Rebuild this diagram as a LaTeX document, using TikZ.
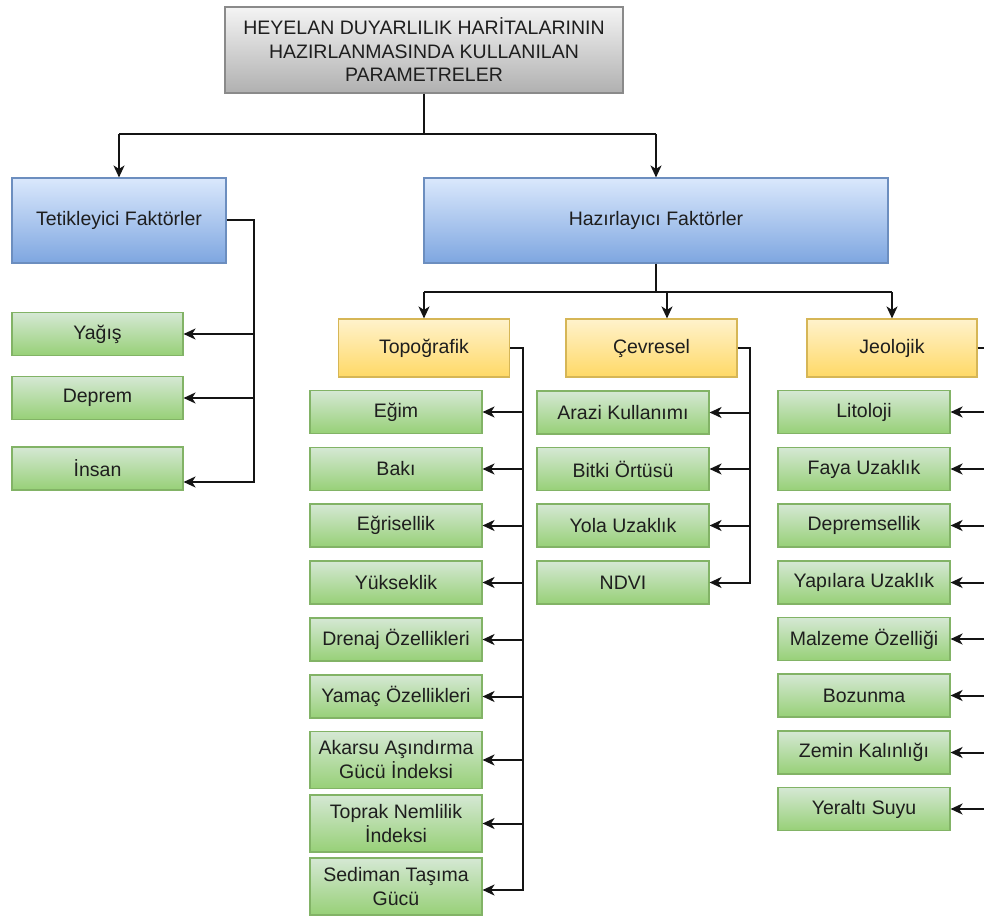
\documentclass[tikz,border=0pt]{standalone}
\usepackage{fontspec}
\setmainfont{Liberation Sans}
\usetikzlibrary{arrows.meta}
\definecolor{textc}{HTML}{1E1E1E}
\definecolor{linec}{HTML}{141414}
\definecolor{grayTop}{HTML}{F4F4F4}
\definecolor{grayBot}{HTML}{B0B0B0}
\definecolor{grayBd}{HTML}{8A8A8A}
\definecolor{blueTop}{HTML}{DAE8FC}
\definecolor{blueBot}{HTML}{7EA6E0}
\definecolor{blueBd}{HTML}{6C8EBF}
\definecolor{yelTop}{HTML}{FFF2CC}
\definecolor{yelBot}{HTML}{FFD966}
\definecolor{yelBd}{HTML}{D6B656}
\definecolor{grnTop}{HTML}{D5E8D4}
\definecolor{grnBot}{HTML}{97D077}
\definecolor{grnBd}{HTML}{82B366}
\begin{document}
\begin{tikzpicture}[x=1pt,y=-1pt,
  box/.style={draw, line width=1.1pt, inner sep=2pt, align=center,
    font=\fontsize{19.5}{23.5}\selectfont, text=textc},
  graybox/.style={box, draw=grayBd, top color=grayTop, bottom color=grayBot},
  bluebox/.style={box, draw=blueBd, top color=blueTop, bottom color=blueBot,
    minimum height=85pt},
  yelbox/.style={box, draw=yelBd, top color=yelTop, bottom color=yelBot,
    minimum width=171pt, minimum height=58pt},
  grnbox/.style={box, draw=grnBd, top color=grnTop, bottom color=grnBot,
    minimum width=172pt, minimum height=43pt},
  tall/.style={minimum height=57pt, font=\fontsize{19.5}{24}\selectfont},
  link/.style={draw=linec, line width=2pt},
  arr/.style={link, -{Stealth[length=12pt,width=11pt,inset=3.5pt]}}]
\useasboundingbox (0,0) rectangle (984,917);
\clip (0,0) rectangle (984,917);

% top level
\node[graybox, minimum width=398pt, minimum height=86pt] (title) at (424,50)
  {HEYELAN DUYARLILIK HARİTALARININ\\HAZIRLANMASINDA KULLANILAN\\PARAMETRELER};
\node[bluebox, minimum width=214pt] (tet) at (119,220.5) {Tetikleyici Faktörler};
\node[bluebox, minimum width=464pt] (haz) at (656,220.5) {Hazırlayıcı Faktörler};

% triggering factors
\node[grnbox, minimum width=171pt] (yagis)  at (97.5,334)   {Yağış};
\node[grnbox, minimum width=171pt] (deprem) at (97.5,398)   {Deprem};
\node[grnbox, minimum width=171pt] (insan)  at (97.5,468.5) {İnsan};

% preparatory groups
\node[yelbox] (topo)  at (424,348)   {Topoğrafik};
\node[yelbox] (cevre) at (651.5,348) {Çevresel};
\node[yelbox, minimum width=170pt] (jeo) at (892,348) {Jeolojik};

% topographic parameters
\node[grnbox] (egim)   at (396,412)   {Eğim};
\node[grnbox] (baki)   at (396,469)   {Bakı};
\node[grnbox] (egri)   at (396,525.5) {Eğrisellik};
\node[grnbox] (yuk)    at (396,582.5) {Yükseklik};
\node[grnbox] (dren)   at (396,639.5) {Drenaj Özellikleri};
\node[grnbox] (yamac)  at (396,696.5) {Yamaç Özellikleri};
\node[grnbox, tall] (akarsu) at (396,760)   {Akarsu Aşındırma\\Gücü İndeksi};
\node[grnbox, tall] (toprak) at (396,823.5) {Toprak Nemlilik\\İndeksi};
\node[grnbox, tall] (sedim)  at (396,886.5) {Sediman Taşıma\\Gücü};

% environmental parameters
\node[grnbox] (arazi) at (623,412.5) {Arazi Kullanımı};
\node[grnbox] (bitki) at (623,469)   {Bitki Örtüsü};
\node[grnbox] (yola)  at (623,525.5) {Yola Uzaklık};
\node[grnbox] (ndvi)  at (623,582.5) {NDVI};

% geological parameters
\node[grnbox] (lito)   at (864,412)   {Litoloji};
\node[grnbox] (faya)   at (864,469)   {Faya Uzaklık};
\node[grnbox] (depsel) at (864,525.5) {Depremsellik};
\node[grnbox] (yapi)   at (864,582.5) {Yapılara Uzaklık};
\node[grnbox] (malz)   at (864,639)   {Malzeme Özelliği};
\node[grnbox] (bozun)  at (864,695.5) {Bozunma};
\node[grnbox] (zemin)  at (864,752.5) {Zemin Kalınlığı};
\node[grnbox] (yeralt) at (864,809)   {Yeraltı Suyu};

% bus coordinates
\coordinate (tb)   at (424,134);
\coordinate (hb)   at (656,292);
\coordinate (tbus) at (254,300);
\coordinate (obus) at (523,400);
\coordinate (cbus) at (750,400);
\coordinate (jbus) at (996,400);
\coordinate (cin)  at ([xshift=15.5pt]cevre.north);

% title to factor groups
\draw[link] (title.south) -- (tb);
\draw[link] (tet.north |- tb) -- (haz.north |- tb);
\draw[arr] (tet.north |- tb) -- (tet.north);
\draw[arr] (haz.north |- tb) -- (haz.north);

% triggering branch
\draw[arr] (tet.east) -- (tbus |- tet.east) |- ([yshift=-13.5pt]insan.east);
\draw[arr] (tbus |- yagis.east) -- (yagis.east);
\draw[arr] (tbus |- deprem.east) -- (deprem.east);

% preparatory branch
\draw[link] (haz.south) -- (hb);
\draw[link] (topo.north |- hb) -- (jeo.north |- hb);
\draw[arr] (topo.north |- hb) -- (topo.north);
\draw[arr] (cin |- hb) -- (cin);
\draw[arr] (jeo.north |- hb) -- (jeo.north);

% topographic bus
\draw[arr] (topo.east) -- (obus |- topo.east) |- ([yshift=-3.5pt]sedim.east);
\foreach \n in {egim,baki,egri,yuk,dren,yamac,akarsu,toprak}
  \draw[arr] (obus |- \n.east) -- (\n.east);

% environmental bus
\draw[arr] (cevre.east) -- (cbus |- cevre.east) |- (ndvi.east);
\foreach \n in {arazi,bitki,yola}
  \draw[arr] (cbus |- \n.east) -- (\n.east);

% geological bus
\draw[link] (jeo.east) -- (jbus |- jeo.east) -- (jbus |- yeralt.east);
\foreach \n in {lito,faya,depsel,yapi,malz,bozun,zemin,yeralt}
  \draw[arr] (jbus |- \n.east) -- (\n.east);
\end{tikzpicture}
\end{document}
